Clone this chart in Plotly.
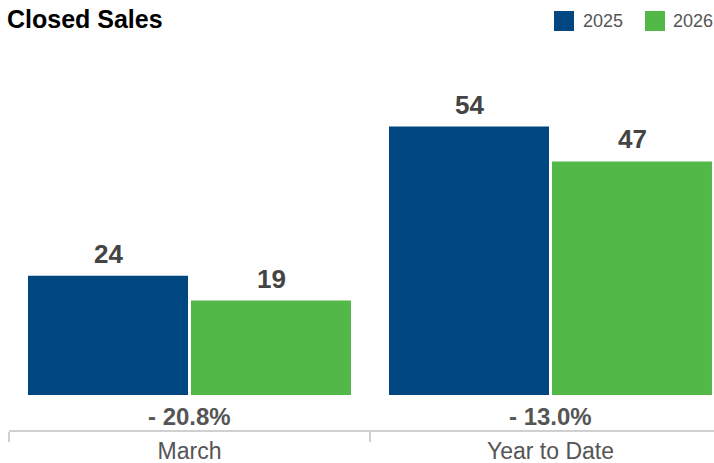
import plotly.graph_objects as go

categories = ["March", "Year to Date"]
series_names = ["2025", "2026"]
values_2025 = [24, 54]
values_2026 = [19, 47]
pct_labels = ["- 20.8%", "- 13.0%"]
colors = ["#004680", "#52b848"]

W, H = 714, 463
ML, MR, MT, MB = 9, 0, 60, 33
PX_PER_UNIT = 4.97
BASE_PX = 395  # pixel row of zero
plot_h = H - MT - MB
y_lo = -(H - MB - BASE_PX) / PX_PER_UNIT
y_hi = (BASE_PX - MT) / PX_PER_UNIT
cat_px = 361
x_hi = -0.5 + (W - ML - MR) / cat_px
BARGAP = 0.097
slot_off = (1 - BARGAP) / 4  # center offset of each bar within its category

FONT = "Liberation Sans, Arial, sans-serif"

fig = go.Figure()
for k, (name, vals, col) in enumerate(zip(series_names, [values_2025, values_2026], colors)):
    fig.add_trace(go.Bar(
        x=categories, y=vals, name=name, marker=dict(color=col, line=dict(width=0)),
        showlegend=False, hoverinfo="skip",
    ))
    off = -slot_off if k == 0 else slot_off
    for i, v in enumerate(vals):
        fig.add_annotation(x=i + off, y=v, xref="x", yref="y", text="<b>%d</b>" % v,
                           showarrow=False, yanchor="bottom", yshift=5,
                           font=dict(family=FONT, size=26, color="#444444"))

# percent change labels
for c, p in zip(categories, pct_labels):
    fig.add_annotation(x=c, y=(BASE_PX - 416) / PX_PER_UNIT, text="<b>%s</b>" % p, showarrow=False,
                       xref="x", yref="y", yanchor="middle",
                       font=dict(family=FONT, size=24, color="#555555"))

# manual legend
def px_to_paper_x(px):
    return (px - ML) / (W - ML - MR)

def px_to_paper_y(py):
    return (H - MB - py) / plot_h

legend_pos = [(554, 581), (645, 671)]
for (sx, tx), name, col in zip(legend_pos, series_names, colors):
    fig.add_shape(type="rect", xref="paper", yref="paper",
                  x0=px_to_paper_x(sx), x1=px_to_paper_x(sx + 20),
                  y0=px_to_paper_y(31), y1=px_to_paper_y(11),
                  fillcolor=col, line=dict(width=0))
    fig.add_annotation(xref="paper", yref="paper", x=px_to_paper_x(tx), y=px_to_paper_y(21),
                       xanchor="left", yanchor="middle", showarrow=False, text=name,
                       font=dict(family=FONT, size=18, color="#555555"))

fig.update_layout(
    width=W, height=H,
    margin=dict(l=ML, r=MR, t=MT, b=MB, autoexpand=False),
    paper_bgcolor="white", plot_bgcolor="white",
    barmode="group", bargap=BARGAP, bargroupgap=0.0184,
    title=dict(text="<b>Closed Sales</b>", x=7 / W, xanchor="left", xref="container",
               y=1 - 19 / H, yanchor="middle", yref="container",
               font=dict(family=FONT, size=25, color="#000000")),
    xaxis=dict(range=[-0.5, x_hi], showline=True, linecolor="#d0d0d0", linewidth=2,
               ticks="outside", tickson="boundaries", ticklen=10, tickcolor="#d0d0d0", tickwidth=2,
               tickfont=dict(family=FONT, size=23, color="#555555"), ticklabelstandoff=-1,
               showgrid=False, zeroline=False, fixedrange=True, automargin=False),
    yaxis=dict(range=[y_lo, y_hi], visible=False, showgrid=False, zeroline=False, fixedrange=True),
)

fig.write_html("out.html", config={"displayModeBar": False},
               post_script="document.body.style.margin='0px';document.body.style.padding='0px';")
